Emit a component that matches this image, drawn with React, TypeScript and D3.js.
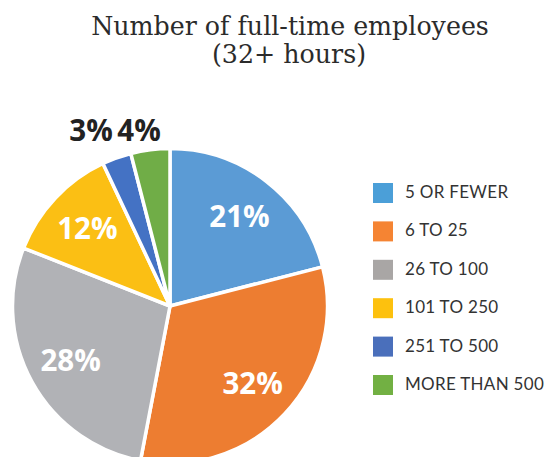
import React from "react";
import * as d3 from "d3";

const categories = ["5 OR FEWER", "6 TO 25", "26 TO 100", "101 TO 250", "251 TO 500", "MORE THAN 500"];
const values = [21, 32, 28, 12, 3, 4];
const sliceColors = ["#5b9bd5", "#ed7d31", "#b1b2b6", "#fbbf14", "#4472c4", "#70ad47"];
const legendColors = ["#4b9fd8", "#f58433", "#a9a6a5", "#fdc10e", "#4a6fbb", "#72b043"];
const titleLines = ["Number of full-time employees", "(32+ hours)"];
// small slices get their labels outside the pie
const outsideLabel = [false, false, false, false, true, true];

const W = 550;
const H = 457;

export default function App() {
  const cx = 170;
  const cy = 306;
  const r = 157.5;

  const pie = d3.pie<number>().sort(null).value((d) => d);
  const arcs = pie(values);
  const arcGen = d3.arc<d3.PieArcDatum<number>>().innerRadius(0).outerRadius(r);
  const labelArc = d3.arc<d3.PieArcDatum<number>>().innerRadius(r * 0.72).outerRadius(r * 0.72);

  const legendY = d3.scaleBand<string>().domain(categories).range([183, 183 + 38.4 * 6]).paddingInner(0);

  // outside labels: side by side above the pie, to the left of the top
  const outsideX = d3.scaleOrdinal<number, number>().domain([4, 5]).range([-79, -31]);

  return (
    <svg width={W} height={H} style={{ position: "absolute", left: 0, top: 0, background: "#fff" }}>
      <g fontFamily="'DejaVu Serif', serif" fill="#2b2b2b" textAnchor="middle" fontSize={25.3}>
        <text x={290} y={35}>{titleLines[0]}</text>
        <text x={289} y={63}>{titleLines[1]}</text>
      </g>
      <g transform={`translate(${cx},${cy})`}>
        {arcs.map((a, i) => (
          <path key={i} d={arcGen(a) || ""} fill={sliceColors[i]} stroke="#fff" strokeWidth={3.5} strokeLinejoin="round" />
        ))}
        {arcs.map((a, i) => {
          const label = `${values[i]}%`;
          if (outsideLabel[i]) {
            return (
              <text
                key={i}
                x={outsideX(i) as number}
                y={-r - 8}
                textAnchor="middle"
                fontFamily="'Open Sans', sans-serif"
                fontWeight={700}
                fontSize={29.5}
                fill="#222"
              >
                {label}
              </text>
            );
          }
          const [lx, ly] = labelArc.centroid(a);
          return (
            <text
              key={i}
              x={lx}
              y={ly + 10.5}
              textAnchor="middle"
              fontFamily="'Open Sans', sans-serif"
              fontWeight={700}
              fontSize={29.5}
              fill="#fff"
            >
              {label}
            </text>
          );
        })}
      </g>
      <g>
        {categories.map((c, i) => {
          const y = legendY(c) as number;
          return (
            <g key={c}>
              <rect x={373} y={y} width={20} height={20} fill={legendColors[i]} />
              <text
                x={405}
                y={y + 15}
                fontFamily="Lato, sans-serif"
                fontSize={17}
                letterSpacing={0.3}
                fill="#333"
              >
                {c}
              </text>
            </g>
          );
        })}
      </g>
    </svg>
  );
}
